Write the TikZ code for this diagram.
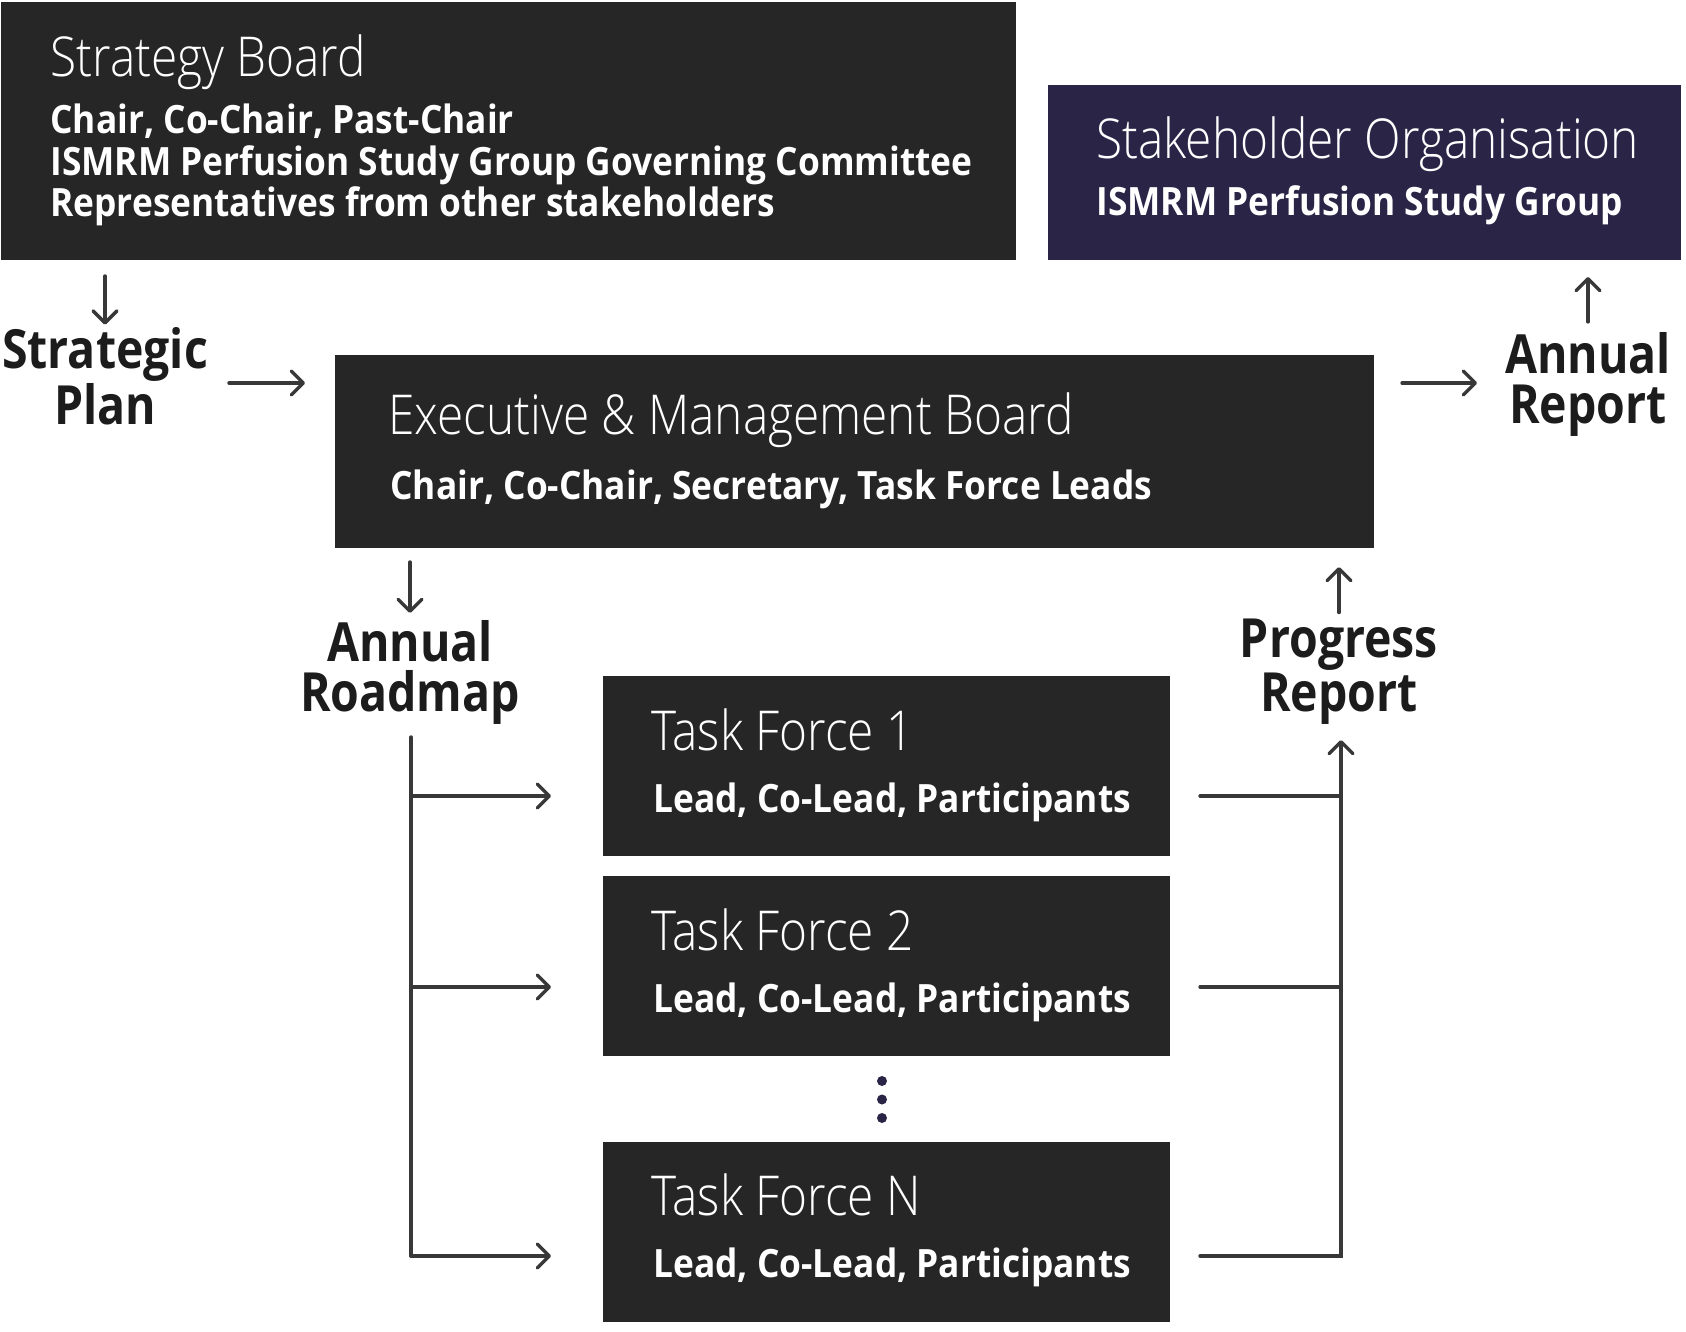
\documentclass[tikz,border=0pt]{standalone}
\usepackage{fontspec}
\setmainfont{Open Sans}[FakeStretch=0.905]
\newfontfamily\lightfont{Open Sans Light}[FakeStretch=0.868]
\newfontfamily\labfont{Open Sans}[FakeStretch=0.86]
\usetikzlibrary{arrows.meta}
\definecolor{boxdark}{HTML}{262626}
\definecolor{boxnavy}{HTML}{2A2547}
\definecolor{linec}{HTML}{383838}
\definecolor{labc}{HTML}{1C1C1C}
\tikzset{
  panel/.style={fill=boxdark, draw=none, inner sep=0pt, outer sep=0pt},
  ttl/.style={anchor=base west, inner sep=0pt, text=white, font=\lightfont\fontsize{27.5}{34}\selectfont},
  subt/.style={anchor=base west, inner sep=0pt, text=white, align=left, font=\bfseries\fontsize{19.5}{20.8}\selectfont},
  lab/.style={anchor=base, inner sep=0pt, text=labc, align=center, font=\labfont\bfseries\fontsize{27}{24.8}\selectfont},
  conn/.style={draw=linec, line width=1.7pt, line cap=round, line join=miter},
  arr/.style={conn, -{Straight Barb[length=6pt,width=12pt,round]}},
}
\begin{document}
\begin{tikzpicture}[x=0.5pt,y=-0.5pt]
\useasboundingbox (0,0) rectangle (1686,1332);
% boxes
\node[panel, minimum width=507.5pt, minimum height=129pt] (sb) at (508.5,131) {};
\node[panel, fill=boxnavy, minimum width=316.5pt, minimum height=87.5pt] (so) at (1364.5,172.5) {};
\node[panel, minimum width=519.5pt, minimum height=96.5pt] (eb) at (854.5,451.5) {};
\node[panel, minimum width=283.5pt, minimum height=90pt] (tf1) at (886.5,766) {};
\node[panel, minimum width=283.5pt, minimum height=90pt] (tf2) at (886.5,966) {};
\node[panel, minimum width=283.5pt, minimum height=90pt] (tfn) at (886.5,1232) {};
% box texts
\node[ttl] (sbT) at (50,77) {Strategy Board};
\node[subt] (sbS) at (50,217) {Chair, Co-Chair, Past-Chair\\ISMRM Perfusion Study Group Governing Committee\\Representatives from other stakeholders};
\node[ttl] (soT) at (1096,159) {Stakeholder Organisation};
\node[subt] (soS) at (1096,216) {ISMRM Perfusion Study Group};
\node[ttl] (ebT) at (388,434) {Executive \& Management Board};
\node[subt] (ebS) at (390,499) {Chair, Co-Chair, Secretary, Task Force Leads};
\node[ttl] (tf1T) at (651,750) {Task Force 1};
\node[subt] (tf1S) at (653,812) {Lead, Co-Lead, Participants};
\node[ttl] (tf2T) at (651,950) {Task Force 2};
\node[subt] (tf2S) at (653,1012) {Lead, Co-Lead, Participants};
\node[ttl] (tfnT) at (651,1215) {Task Force N};
\node[subt] (tfnS) at (653,1277) {Lead, Co-Lead, Participants};
% labels (base anchor = baseline of last line)
\node[lab] (sp) at (105,424) {Strategic\\Plan};
\node[lab] (ar) at (1588,423) {Annual\\Report};
\node[lab] (arm) at (410,711) {Annual\\Roadmap};
\node[lab] (pr) at (1339,711) {Progress\\Report};
% dots
\fill[boxnavy] (882,1081) circle (2.5pt);
\fill[boxnavy] (882,1099.5) circle (2.5pt);
\fill[boxnavy] (882,1118) circle (2.5pt);
% coordinates
\coordinate (spr) at (229,383);
\coordinate (arl) at (1477,383);
\coordinate (lt) at (411,737);
\coordinate (l1) at (411,796);
\coordinate (l2) at (411,987);
\coordinate (ln) at (411,1256);
\coordinate (r1) at (1341,796);
\coordinate (r2) at (1341,987);
\coordinate (rn) at (1341,1256);
\coordinate (rtop) at (1341,740);
% connectors
\draw[arr, shorten <=8pt, shorten >=1pt] (sb.south -| sp.north) -- (sp.north);
\draw[arr, shorten >=15pt] (spr) -- (spr -| eb.west);
\draw[arr, shorten <=14pt] (arl -| eb.east) -- (arl);
\draw[arr, shorten <=5pt, shorten >=8.5pt] (ar.north) -- (ar.north |- so.south);
\draw[arr, shorten <=7pt, shorten >=3.5pt] (eb.south -| arm.north) -- (arm.north);
\draw[arr, shorten <=3pt, shorten >=9.5pt] (pr.north) -- (pr.north |- eb.south);
\draw[conn] (lt) -- (ln);
\draw[arr, shorten >=26pt] (l1) -- (l1 -| tf1.west);
\draw[arr, shorten >=26pt] (l2) -- (l2 -| tf2.west);
\draw[arr, shorten >=26pt] (ln) -- (ln -| tfn.west);
\draw[conn, shorten <=15pt] (r1 -| tf1.east) -- (r1);
\draw[conn, shorten <=15pt] (r2 -| tf2.east) -- (r2);
\draw[arr, shorten <=15pt] (rn -| tfn.east) -- (rn) -- (rtop);
\end{tikzpicture}
\end{document}
